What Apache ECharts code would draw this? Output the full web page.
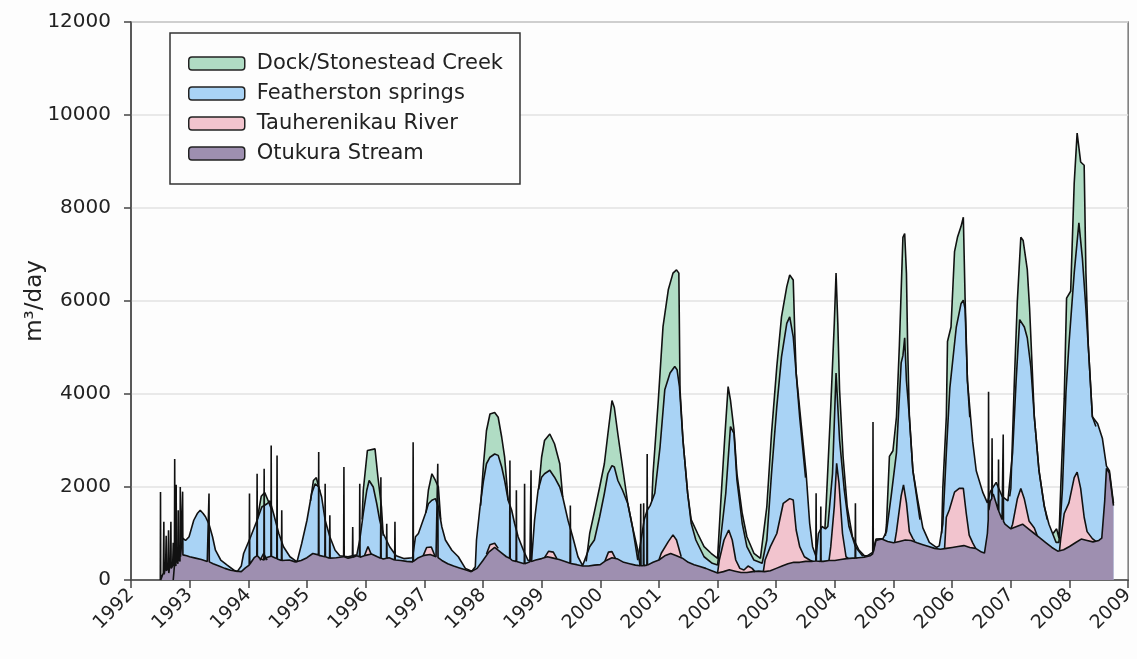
<!DOCTYPE html>
<html lang="en">
<head>
    <meta charset="UTF-8">
    <title>Stream flows 1992-2009</title>
    <style>
        body { margin: 0; background: #fdfdfd; }
        #chart { width: 1137px; height: 659px; }
    </style>
    <script src="https://cdn.jsdelivr.net/npm/echarts@6/dist/echarts.min.js"></script>
</head>
<body>
<div id="chart"></div>
<script>
    // values, [decimal year, m3/day]; each is the stacked level (top of that band)
    // null breaks a band where it sits under the band above it
    const yearTicks = [1992, 2009, 1];
    const valueTicks = [0, 12000, 2000];

    const otukura = [
        [1992.50,0],[1992.503,1890],[1992.507,0],[1992.55,150],[1992.56,1250],[1992.565,120],
        [1992.59,300],[1992.60,950],[1992.605,200],[1992.63,250],[1992.64,1070],[1992.645,150],
        [1992.67,400],[1992.68,1250],[1992.685,250],[1992.71,300],[1992.72,800],[1992.725,350],
        [1992.74,300],[1992.745,2600],[1992.75,400],[1992.765,300],[1992.77,2050],[1992.775,450],
        [1992.80,350],[1992.805,1500],[1992.81,450],[1992.835,400],[1992.84,2000],[1992.845,500],
        [1992.875,520],[1992.88,1900],[1992.885,540],[1992.95,520],[1993.0,500],[1993.1,470],
        [1993.2,440],[1993.3,400],[1993.325,395],[1993.33,1860],[1993.335,390],[1993.4,350],
        [1993.5,300],[1993.6,250],[1993.7,210],[1993.8,190],[1993.88,180],[1993.95,260],
        [1994.015,320],[1994.02,1860],[1994.025,340],[1994.1,480],[1994.145,520],[1994.15,2285],
        [1994.155,520],[1994.2,460],[1994.265,430],[1994.27,2390],[1994.275,430],[1994.3,480],
        [1994.385,510],[1994.39,2890],[1994.395,510],[1994.45,480],[1994.485,460],[1994.49,2680],
        [1994.495,450],[1994.565,420],[1994.57,1500],[1994.575,420],[1994.6,400],[1994.7,430],
        [1994.8,390],[1994.9,420],[1995.0,480],[1995.1,570],[1995.195,540],[1995.2,2750],
        [1995.205,530],[1995.305,500],[1995.31,2070],[1995.315,500],[1995.385,470],[1995.39,1390],
        [1995.395,470],[1995.5,480],[1995.625,500],[1995.63,2430],[1995.635,500],[1995.7,470],
        [1995.775,490],[1995.78,1140],[1995.785,490],[1995.85,520],[1995.895,500],[1995.9,2070],
        [1995.905,490],[1996.0,530],[1996.1,560],[1996.2,500],[1996.255,470],[1996.26,2210],
        [1996.265,470],[1996.3,450],[1996.355,470],[1996.36,1210],[1996.365,470],[1996.4,480],
        [1996.495,430],[1996.5,1250],[1996.505,430],[1996.6,420],[1996.7,400],[1996.805,390],
        [1996.81,2960],[1996.815,400],[1996.9,480],[1997.0,530],[1997.1,550],[1997.2,500],
        [1997.225,490],[1997.23,2500],[1997.235,480],[1997.3,420],[1997.4,350],[1997.5,300],
        [1997.6,260],[1997.7,220],[1997.8,180],[1997.9,250],[1998.0,420],[1998.1,600],
        [1998.2,700],[1998.3,600],[1998.4,500],[1998.455,470],[1998.46,2570],[1998.465,460],
        [1998.5,420],[1998.565,400],[1998.57,1930],[1998.575,400],[1998.6,380],[1998.705,350],
        [1998.71,2070],[1998.715,350],[1998.8,390],[1998.815,395],[1998.82,2360],[1998.825,400],
        [1998.9,430],[1999.0,460],[1999.1,500],[1999.2,470],[1999.3,440],[1999.4,400],
        [1999.485,360],[1999.49,1600],[1999.495,355],[1999.6,330],[1999.7,300],[1999.8,300],
        [1999.9,320],[2000.0,330],[2000.1,420],[2000.2,480],[2000.3,450],[2000.4,380],
        [2000.5,350],[2000.6,320],[2000.685,305],[2000.69,1640],[2000.695,305],[2000.735,310],
        [2000.74,1650],[2000.745,310],[2000.795,320],[2000.8,2710],[2000.805,320],[2000.9,380],
        [2001.0,430],[2001.1,520],[2001.2,570],[2001.3,520],[2001.4,470],[2001.5,380],
        [2001.6,330],[2001.7,290],[2001.8,250],[2001.9,200],[2002.0,150],[2002.1,180],
        [2002.2,220],[2002.3,190],[2002.4,160],[2002.5,160],[2002.6,180],[2002.7,190],
        [2002.8,180],[2002.9,200],[2003.0,250],[2003.1,300],[2003.2,350],[2003.3,380],
        [2003.4,380],[2003.5,400],[2003.6,400],[2003.675,410],[2003.68,1865],[2003.685,410],
        [2003.755,400],[2003.76,1580],[2003.765,400],[2003.8,400],[2003.9,420],[2004.0,420],
        [2004.1,440],[2004.2,460],[2004.3,470],[2004.345,470],[2004.35,1650],[2004.355,470],
        [2004.4,480],[2004.5,490],[2004.6,520],[2004.645,560],[2004.65,3400],[2004.655,600],
        [2004.7,850],[2004.8,880],[2004.9,830],[2005.0,800],[2005.1,830],[2005.2,860],
        [2005.3,850],[2005.4,800],[2005.5,760],[2005.6,720],[2005.7,680],[2005.8,660],
        [2005.9,680],[2006.0,700],[2006.1,720],[2006.2,740],[2006.3,700],[2006.4,680],
        [2006.5,600],[2006.55,580],[2006.6,1000],[2006.615,1300],[2006.62,4050],[2006.625,1500],
        [2006.65,1700],[2006.675,1750],[2006.68,3050],[2006.685,1800],[2006.7,1850],[2006.75,1650],
        [2006.785,1500],[2006.79,2590],[2006.795,1480],[2006.85,1300],[2006.865,1280],[2006.87,3130],
        [2006.875,1260],[2006.9,1200],[2007.0,1100],[2007.1,1150],[2007.2,1200],[2007.3,1100],
        [2007.4,1000],[2007.5,900],[2007.6,800],[2007.7,700],[2007.8,620],[2007.9,650],
        [2008.0,720],[2008.1,800],[2008.2,880],[2008.3,850],[2008.4,820],[2008.5,850],
        [2008.55,900],[2008.6,1700],[2008.63,2400],[2008.68,2300],[2008.72,1900],[2008.75,1600]
    ];

    const tauherenikau = [
        [1994.20,420],[1994.26,570],[1994.32,430],[1994.33,null],
        [1995.98,520],[1996.04,720],[1996.10,540],[1996.11,null],
        [1996.98,520],[1997.04,700],[1997.12,710],[1997.18,520],[1997.19,null],
        [1998.06,560],[1998.12,760],[1998.20,790],[1998.26,680],[1998.27,null],
        [1999.05,480],[1999.12,620],[1999.20,600],[1999.26,460],[1999.27,null],
        [2000.08,410],[2000.14,600],[2000.20,610],[2000.26,460],[2000.27,null],
        [2001.00,430],[2001.04,575],[2001.16,825],[2001.24,970],[2001.30,860],[2001.38,500],[2001.39,null],
        [2002.00,150],[2002.03,430],[2002.11,860],[2002.19,1075],[2002.25,860],[2002.31,430],
        [2002.38,250],[2002.45,215],[2002.52,300],[2002.59,250],[2002.64,175],[2002.65,null],
        [2002.78,180],[2002.81,430],[2002.90,717],[2003.01,1000],[2003.12,1650],[2003.23,1750],
        [2003.29,1720],[2003.34,1075],[2003.40,717],[2003.48,500],[2003.57,430],[2003.62,400],[2003.63,null],
        [2003.90,420],[2003.93,717],[2003.99,1580],[2004.03,2510],[2004.07,2080],[2004.13,1000],
        [2004.19,500],[2004.23,460],[2004.24,null],
        [2005.02,810],[2005.05,1040],[2005.13,1810],[2005.17,2045],[2005.22,1660],[2005.27,1040],
        [2005.33,890],[2005.36,840],[2005.37,null],
        [2005.87,670],[2005.90,1350],[2005.95,1505],[2006.04,1890],[2006.12,1970],[2006.19,1970],
        [2006.24,1430],[2006.29,965],[2006.35,800],[2006.40,680],[2006.41,null],
        [2007.00,1100],[2007.03,1200],[2007.11,1740],[2007.17,1970],[2007.23,1740],[2007.31,1270],
        [2007.40,1120],[2007.45,950],[2007.46,null],
        [2007.83,640],[2007.85,890],[2007.91,1430],[2007.99,1660],[2008.08,2200],[2008.13,2320],
        [2008.19,1970],[2008.25,1350],[2008.30,1040],[2008.39,890],[2008.45,830]
    ];

    const featherston = [
        [1992.72,0],[1992.74,300],[1992.78,700],[1992.84,550],[1992.88,900],[1992.93,850],
        [1992.99,930],[1993.07,1285],[1993.13,1430],[1993.18,1500],[1993.23,1430],[1993.27,1360],
        [1993.33,1200],[1993.39,930],[1993.44,640],[1993.53,430],[1993.64,320],[1993.75,215],
        [1993.81,180],[1993.88,300],[1993.92,570],[1994.04,930],[1994.15,1285],[1994.23,1570],
        [1994.32,1640],[1994.37,1700],[1994.43,1430],[1994.52,1000],[1994.60,715],[1994.71,500],
        [1994.83,390],[1994.91,785],[1995.00,1285],[1995.08,1860],[1995.14,2070],[1995.20,2000],
        [1995.25,1785],[1995.31,1285],[1995.39,930],[1995.48,640],[1995.56,520],[1995.70,500],
        [1995.85,540],[1995.90,860],[1995.96,1430],[1996.02,1930],[1996.06,2140],[1996.13,2000],
        [1996.19,1640],[1996.24,1285],[1996.30,1000],[1996.41,715],[1996.52,520],[1996.65,460],
        [1996.80,480],[1996.85,930],[1996.90,1000],[1997.02,1430],[1997.07,1640],[1997.13,1715],
        [1997.19,1750],[1997.24,1570],[1997.30,1140],[1997.36,860],[1997.47,640],[1997.58,500],
        [1997.70,250],[1997.81,190],[1997.87,285],[1997.89,860],[1997.95,1570],[1998.01,2140],
        [1998.06,2500],[1998.12,2640],[1998.20,2710],[1998.26,2680],[1998.32,2430],[1998.37,2140],
        [1998.43,1715],[1998.49,1500],[1998.54,1215],[1998.60,930],[1998.69,640],[1998.77,420],
        [1998.83,430],[1998.88,1285],[1998.94,1930],[1999.00,2210],[1999.05,2285],[1999.14,2360],
        [1999.22,2210],[1999.31,2000],[1999.36,1785],[1999.45,1285],[1999.53,930],[1999.62,500],
        [1999.70,310],[1999.82,715],[1999.90,860],[1999.99,1360],[2000.07,1860],[2000.13,2285],
        [2000.20,2460],[2000.24,2430],[2000.30,2140],[2000.38,1930],[2000.47,1640],[2000.55,1140],
        [2000.64,430],[2000.70,900],[2000.75,1300],[2000.80,1500],[2000.85,1600],[2000.93,1865],
        [2001.02,2870],[2001.10,4090],[2001.19,4450],[2001.27,4590],[2001.31,4520],[2001.35,4160],
        [2001.41,3010],[2001.49,1865],[2001.55,1220],[2001.63,860],[2001.77,500],[2001.91,360],
        [2002.00,320],[2002.05,860],[2002.14,1865],[2002.22,3300],[2002.28,3155],[2002.33,2150],
        [2002.42,1220],[2002.50,717],[2002.62,430],[2002.76,360],[2002.84,860],[2002.92,2290],
        [2003.01,3730],[2003.09,4800],[2003.18,5520],[2003.23,5660],[2003.29,5230],[2003.34,4450],
        [2003.43,3300],[2003.51,2290],[2003.57,1220],[2003.62,717],[2003.68,500],[2003.72,1000],
        [2003.78,1150],[2003.84,1100],[2003.88,1150],[2003.96,2290],[2004.02,4450],[2004.05,4450],
        [2004.08,3010],[2004.16,1935],[2004.24,1150],[2004.35,717],[2004.47,520],[2004.55,520],
        [2004.65,600],[2004.70,880],[2004.82,890],[2004.88,1040],[2004.96,1810],[2005.05,2740],
        [2005.13,4670],[2005.16,4825],[2005.19,5210],[2005.22,4285],[2005.27,3510],[2005.33,2350],
        [2005.41,1740],[2005.50,1120],[2005.61,810],[2005.73,700],[2005.78,733],[2005.84,1200],
        [2005.90,2740],[2005.96,4130],[2006.07,5440],[2006.15,5940],[2006.19,6020],[2006.22,5830],
        [2006.26,4285],[2006.35,2970],[2006.41,2350],[2006.52,1890],[2006.60,1660],[2006.65,1900],
        [2006.75,2100],[2006.85,1800],[2006.95,1700],[2007.03,2740],[2007.09,4285],[2007.15,5600],
        [2007.23,5440],[2007.28,5210],[2007.34,4590],[2007.40,3510],[2007.48,2350],[2007.57,1580],
        [2007.65,1200],[2007.77,810],[2007.82,810],[2007.88,1970],[2007.94,4050],[2007.99,5060],
        [2008.08,6600],[2008.16,7680],[2008.22,6910],[2008.28,5830],[2008.33,4825],[2008.39,3510],
        [2008.48,3360],[2008.56,3050],[2008.63,2450],[2008.68,2350],[2008.72,1950],[2008.75,1650]
    ];

    const dockStonestead = [
        [1994.15,1285],[1994.22,1800],[1994.28,1880],[1994.34,1700],[1994.40,1500],[1994.41,null],
        [1995.06,1700],[1995.11,2140],[1995.16,2200],[1995.22,1900],[1995.23,null],
        [1995.94,1300],[1995.96,1930],[1996.03,2785],[1996.16,2820],[1996.21,2210],[1996.27,1570],
        [1996.30,950],[1996.31,null],
        [1997.03,1450],[1997.07,1930],[1997.13,2285],[1997.19,2140],[1997.24,2000],[1997.28,1300],[1997.29,null],
        [1997.96,1600],[1998.01,2500],[1998.06,3210],[1998.12,3570],[1998.20,3600],[1998.26,3500],
        [1998.32,3070],[1998.37,2640],[1998.43,1715],[1998.44,null],
        [1998.95,1950],[1999.00,2640],[1999.05,3000],[1999.14,3140],[1999.22,2930],[1999.31,2500],
        [1999.36,1785],[1999.37,null],
        [1999.76,400],[1999.82,1000],[1999.90,1465],[1999.99,2000],[2000.07,2500],[2000.13,3140],
        [2000.20,3860],[2000.24,3710],[2000.30,3140],[2000.38,2430],[2000.47,1640],[2000.55,1140],
        [2000.64,640],[2000.68,300],[2000.69,null],
        [2000.88,1700],[2000.90,2290],[2000.99,3870],[2001.07,5450],[2001.16,6240],[2001.24,6600],
        [2001.30,6670],[2001.34,6600],[2001.36,4090],[2001.41,3010],[2001.49,1865],[2001.55,1300],
        [2001.66,1000],[2001.77,717],[2001.89,575],[2002.00,465],[2002.05,1580],[2002.12,3010],
        [2002.18,4160],[2002.22,3870],[2002.28,3225],[2002.33,2290],[2002.42,1435],[2002.50,930],
        [2002.62,575],[2002.73,465],[2002.84,1580],[2002.92,3155],[2003.01,4590],[2003.09,5660],
        [2003.18,6310],[2003.23,6560],[2003.29,6450],[2003.32,5160],[2003.34,4450],[2003.40,3500],
        [2003.50,2200],[2003.51,null],
        [2003.83,1100],[2003.85,1580],[2003.93,3730],[2003.99,5520],[2004.02,6600],[2004.05,5520],
        [2004.08,4090],[2004.14,2650],[2004.21,1580],[2004.30,930],[2004.41,645],[2004.52,500],[2004.53,null],
        [2004.86,950],[2004.88,1200],[2004.93,2660],[2004.99,2780],[2005.05,3510],[2005.10,5060],
        [2005.16,7370],[2005.19,7450],[2005.22,6600],[2005.24,5060],[2005.27,3510],[2005.33,2350],
        [2005.45,1300],[2005.46,null],
        [2005.82,1000],[2005.84,1970],[2005.90,3510],[2005.92,5130],[2005.98,5440],[2006.04,7060],
        [2006.09,7370],[2006.15,7600],[2006.19,7800],[2006.22,6060],[2006.26,4285],[2006.30,3500],[2006.31,null],
        [2006.98,1800],[2007.00,1970],[2007.06,4285],[2007.11,5980],[2007.17,7370],[2007.21,7300],
        [2007.28,6680],[2007.32,5830],[2007.36,4670],[2007.40,3510],[2007.48,2350],[2007.57,1600],
        [2007.62,1300],[2007.63,null],
        [2007.72,1000],[2007.78,1100],[2007.82,900],[2007.85,1970],[2007.91,3900],[2007.95,6060],
        [2008.02,6210],[2008.08,8530],[2008.13,9610],[2008.19,8990],[2008.25,8920],[2008.28,6600],
        [2008.32,5060],[2008.39,3510],[2008.45,3300]
    ];

    const bands = [
        { name: 'Dock/Stonestead Creek', data: dockStonestead, fill: '#b0dcc4' },
        { name: 'Featherston springs', data: featherston, fill: '#a9d3f5' },
        { name: 'Tauherenikau River', data: tauherenikau, fill: '#f2c4ce' },
        { name: 'Otukura Stream', data: otukura, fill: '#9e8fb0' }
    ];

    const font = 'DejaVu Sans';
    const chart = echarts.init(document.getElementById('chart'));

    chart.setOption({
        animation: false,
        backgroundColor: '#fdfdfd',
        grid: { left: 131, right: 4, top: 22, bottom: 79, show: true, borderColor: '#777', borderWidth: 1.5 },
        legend: {
            orient: 'vertical',
            left: 170,
            top: 33,
            padding: [20, 17, 20, 18],
            itemGap: 9,
            itemWidth: 56,
            itemHeight: 13,
            icon: 'roundRect',
            borderColor: '#333',
            borderWidth: 1.5,
            backgroundColor: '#fdfdfd',
            itemStyle: { borderColor: '#222', borderWidth: 1.5 },
            textStyle: { fontFamily: font, fontSize: 21, color: '#222', padding: [0, 0, 0, 7] },
            data: bands.map(b => b.name)
        },
        xAxis: {
            type: 'value',
            min: yearTicks[0],
            max: yearTicks[1],
            interval: yearTicks[2],
            axisLine: { lineStyle: { color: '#444', width: 1.5 } },
            axisTick: { length: 8, lineStyle: { color: '#444', width: 1.5 } },
            splitLine: { show: false },
            axisLabel: {
                rotate: 45, margin: 12, fontFamily: font, fontSize: 19, color: '#222',
                formatter: v => String(v)
            }
        },
        yAxis: {
            type: 'value',
            min: valueTicks[0],
            max: valueTicks[1],
            interval: valueTicks[2],
            name: 'm³/day',
            nameLocation: 'middle',
            nameRotate: 90,
            nameGap: 84,
            nameMoveOverlap: false,
            nameTextStyle: { fontFamily: font, fontSize: 23, color: '#222' },
            axisLine: { show: true, lineStyle: { color: '#444', width: 1.5 } },
            axisTick: { show: true, length: 7, lineStyle: { color: '#444', width: 1.5 } },
            splitLine: { lineStyle: { color: '#e2e2e2', width: 1.5 } },
            axisLabel: {
                margin: 20, fontFamily: font, fontSize: 20, color: '#222',
                formatter: v => String(v)
            }
        },
        series: bands.map(b => ({
            name: b.name,
            type: 'line',
            data: b.data,
            showSymbol: false,
            symbol: 'none',
            connectNulls: false,
            color: b.fill,
            itemStyle: { color: b.fill },
            lineStyle: { color: '#111', width: 1.6 },
            areaStyle: { color: b.fill, opacity: 1 }
        }))
    });
</script>
</body>
</html>
